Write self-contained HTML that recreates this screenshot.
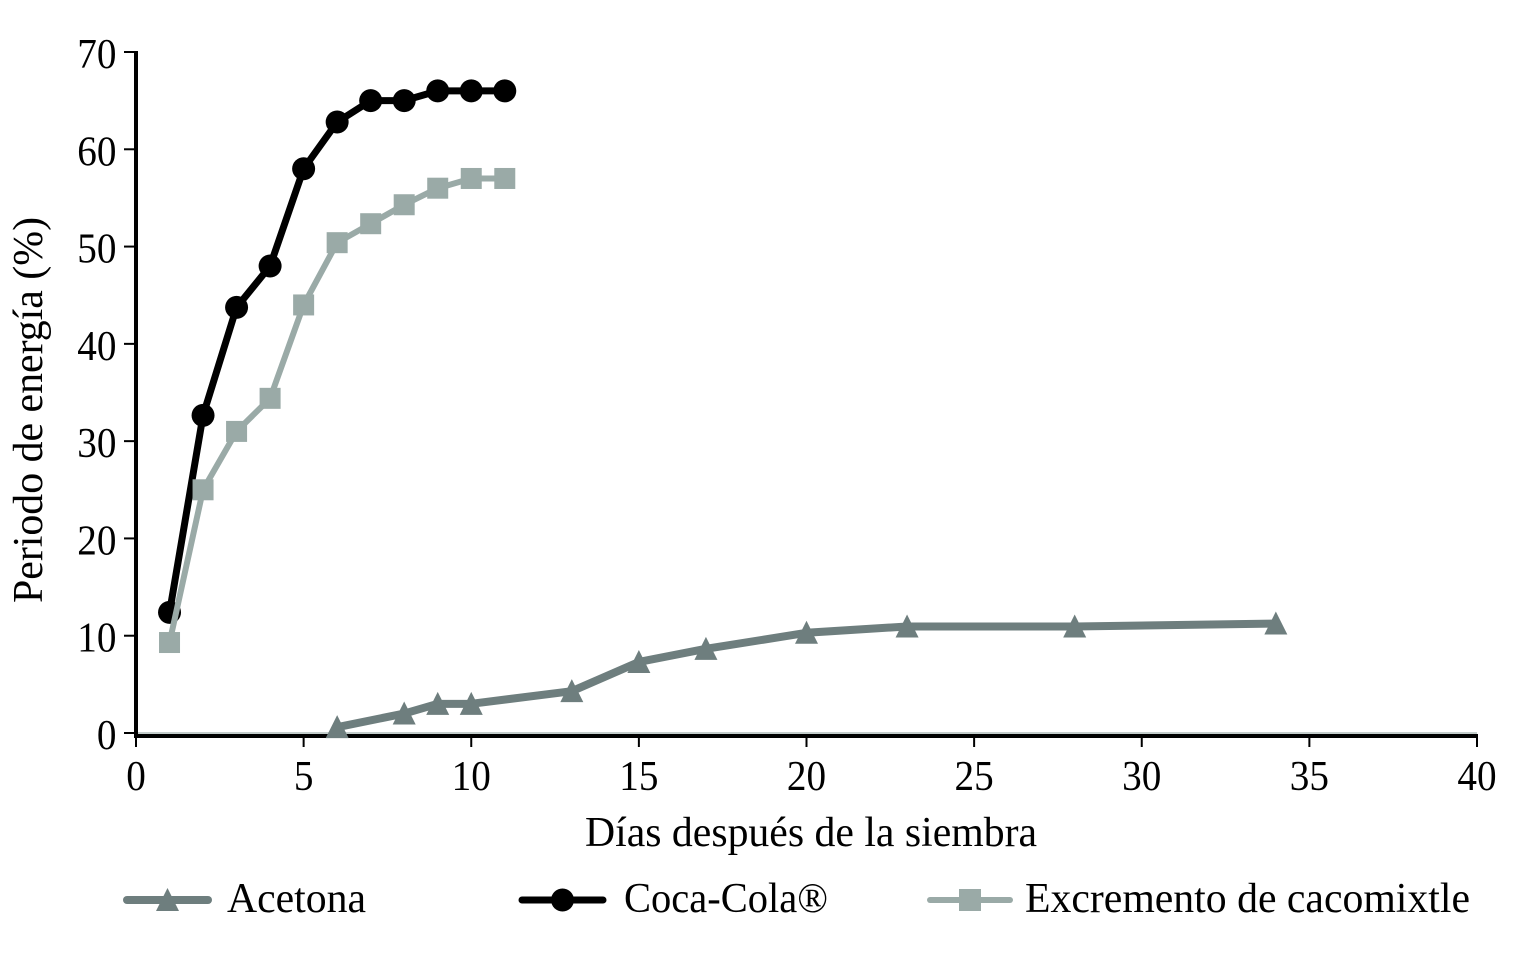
<!DOCTYPE html>
<html lang="es">
<head>
<meta charset="utf-8">
<title>Periodo de energía</title>
<style>
html,body{margin:0;padding:0;background:#fff;width:1530px;height:959px;overflow:hidden}
svg{display:block}
text{font-family:"Liberation Serif","Times New Roman",serif;fill:#000}
</style>
</head>
<body>
<svg id="chart" xmlns="http://www.w3.org/2000/svg" width="1530" height="959" viewBox="0 0 1530 959"></svg>
<script>
const xTicks = [0, 5, 10, 15, 20, 25, 30, 35, 40];
const yTicks = [0, 10, 20, 30, 40, 50, 60, 70];
const xTitle = "Días después de la siembra";
const yTitle = "Periodo de energía (%)";
const acetonaDays = [6, 8, 9, 10, 13, 15, 17, 20, 23, 28, 34];
const acetonaValues = [0.6, 2, 3, 3, 4.3, 7.3, 8.65, 10.3, 10.95, 10.95, 11.25];
const cocaDays = [1, 2, 3, 4, 5, 6, 7, 8, 9, 10, 11];
const cocaValues = [12.4, 32.65, 43.75, 48.0, 58, 62.8, 65, 65, 66, 66, 66];
const excrementoDays = [1, 2, 3, 4, 5, 6, 7, 8, 9, 10, 11];
const excrementoValues = [9.3, 25, 31, 34.4, 44.0, 50.4, 52.35, 54.3, 56, 57, 57];

const NS = "http://www.w3.org/2000/svg";
const svg = document.getElementById("chart");
const sx = v => 136 + v * (1477 - 136) / 40;
const sy = v => 733 - v * (733 - 52) / 70;
const GREY = "#6e7e7e", BLACK = "#000", LIGHT = "#9aaaa7";
const FONT = 42, DIGIT = 19.6;

function make(tag, attrs, parent) {
  const el = document.createElementNS(NS, tag);
  for (const k in attrs) el.setAttribute(k, attrs[k]);
  (parent || svg).appendChild(el);
  return el;
}
function marker(shape, cx, cy, color, parent, size) {
  if (shape === "circle") return make("circle", {cx: cx, cy: cy, r: 11.5, fill: color}, parent);
  if (shape === "square") return make("rect", {x: cx - size / 2, y: cy - size / 2, width: size, height: size, fill: color}, parent);
  return make("polygon", {points: `${cx},${cy - 12} ${cx + 11.5},${cy + 11} ${cx - 11.5},${cy + 11}`, fill: color}, parent);
}

// axes
const axes = make("g", {});


const xShade = make("line", {x1: 136, x2: 1477, y1: 733, y2: 733, stroke: "#c3cdcb", "stroke-width": 2}, axes);


const xBase = make("line", {x1: 134, x2: 1478, y1: 736, y2: 736, stroke: "#000", "stroke-width": 4}, axes);


const yBase = make("line", {x1: 136, x2: 136, y1: 51, y2: 738, stroke: "#000", "stroke-width": 4}, axes);



xTicks.forEach(t => {
  const tick = make("line", {x1: sx(t), x2: sx(t), y1: 736, y2: 747, stroke: "#000", "stroke-width": 2}, axes);
  
  
  const label = make("text", {x: sx(t), y: 790, "font-size": FONT, "text-anchor": "middle", textLength: String(t).length * DIGIT, lengthAdjust: "spacingAndGlyphs"}, axes);
  label.textContent = t;
  
  
});
yTicks.forEach(t => {
  const tick = make("line", {x1: 124, x2: 136, y1: sy(t), y2: sy(t), stroke: "#000", "stroke-width": 2}, axes);
  
  
  const label = make("text", {x: 116.5, y: sy(t) + 16, "font-size": FONT, "text-anchor": "end", textLength: String(t).length * DIGIT, lengthAdjust: "spacingAndGlyphs"}, axes);
  label.textContent = t;
  
  
});

const xt = make("text", {x: 811, y: 846, "font-size": FONT, "text-anchor": "middle", textLength: 452, lengthAdjust: "spacingAndGlyphs"});
xt.textContent = xTitle;


const yt = make("text", {transform: "translate(42,410) rotate(-90)", "font-size": FONT, "text-anchor": "middle", textLength: 386, lengthAdjust: "spacingAndGlyphs"});
yt.textContent = yTitle;



// series
function drawSeries(name, days, values, color, width, shape) {
  const g = make("g", {});
  
  
  const pts = days.map((d, i) => sx(d) + "," + sy(values[i])).join(" ");
  const line = make("polyline", {points: pts, fill: "none", stroke: color, "stroke-width": width, "stroke-linejoin": "round"}, g);
  
  
  days.forEach((d, i) => {
    const m = marker(shape, sx(d), sy(values[i]), color, g, 21);
    
    
  });
}
drawSeries("acetona", acetonaDays, acetonaValues, GREY, 8, "triangle");
drawSeries("coca-cola", cocaDays, cocaValues, BLACK, 7, "circle");
drawSeries("excremento", excrementoDays, excrementoValues, LIGHT, 6, "square");

// legend
function legendItem(name, label, x1, x2, textX, textLen, color, width, shape) {
  const g = make("g", {});
  
  
  const y = 900;
  const l = make("line", {x1: x1, x2: x2, y1: y, y2: y, stroke: color, "stroke-width": width, "stroke-linecap": "round"}, g);
  
  
  const m = marker(shape, (x1 + x2) / 2, y, color, g, 22);
  
  
  const t = make("text", {x: textX, y: 912, "font-size": FONT, textLength: textLen, lengthAdjust: "spacingAndGlyphs"}, g);
  t.textContent = label;
  
  
}
legendItem("acetona", "Acetona", 127, 208, 227, 139, GREY, 8, "triangle");
legendItem("coca-cola", "Coca-Cola®", 522, 603, 624, 204, BLACK, 7, "circle");
legendItem("excremento", "Excremento de cacomixtle", 930, 1010, 1025, 445, LIGHT, 6, "square");
</script>
</body>
</html>
